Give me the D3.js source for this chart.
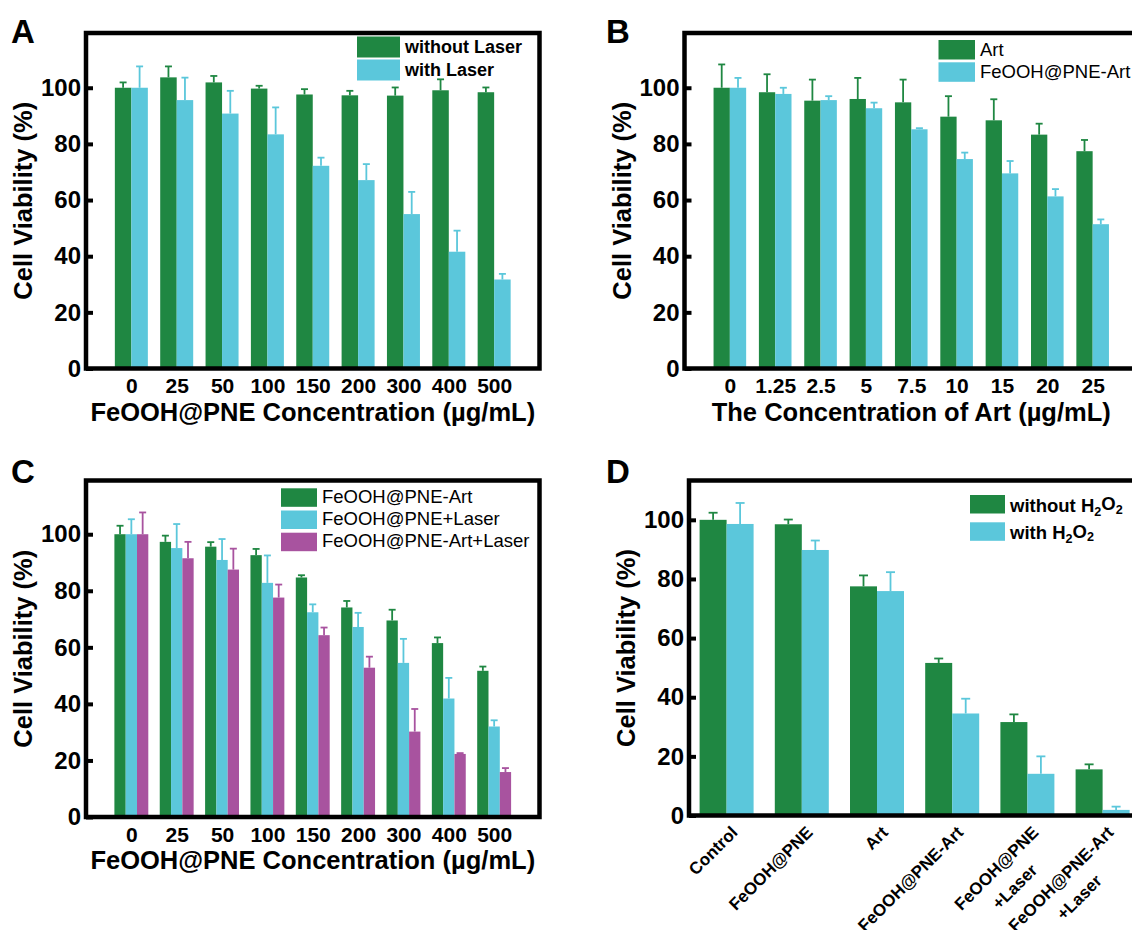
<!DOCTYPE html>
<html>
<head>
<meta charset="utf-8">
<script src="https://cdnjs.cloudflare.com/ajax/libs/d3/7.8.5/d3.min.js"></script>
<style>
  body { margin: 0; background: #fff; }
  svg { display: block; font-family: "Liberation Sans", Arial, sans-serif; }
</style>
</head>
<body>
<div id="chart"></div>
<script>
// ---- data ----
const concCats = ["0", "25", "50", "100", "150", "200", "300", "400", "500"];
const artCats = ["0", "1.25", "2.5", "5", "7.5", "10", "15", "20", "25"];
const groupCats = [["Control"], ["FeOOH@PNE"], ["Art"], ["FeOOH@PNE-Art"],
                   ["FeOOH@PNE", "+Laser"], ["FeOOH@PNE-Art", "+Laser"]];
const yTicks = [0, 20, 40, 60, 80, 100];

// A
const withoutLaserA = [100, 103.7, 101.9, 99.7, 97.6, 97.3, 97.2, 99.1, 98.4];
const withoutLaserErrA = [1.9, 3.9, 2.3, 1.0, 1.9, 1.6, 2.9, 3.9, 1.7];
const withLaserA = [100, 95.6, 90.8, 83.4, 72.2, 67.1, 55.0, 41.6, 31.7];
const withLaserErrA = [7.6, 8.0, 8.1, 9.6, 2.9, 5.7, 7.9, 7.5, 2.0];

// B
const artB = [100, 98.4, 95.4, 96.0, 94.8, 89.7, 88.4, 83.3, 77.4];
const artErrB = [8.3, 6.4, 7.5, 7.5, 8.1, 7.3, 7.5, 3.9, 4.0];
const feArtB = [100, 97.8, 95.6, 92.7, 85.2, 74.6, 69.5, 61.3, 51.4];
const feArtErrB = [3.5, 2.2, 1.4, 2.0, 0.4, 2.3, 4.4, 2.6, 1.7];

// C
const feArtC = [100, 97.3, 95.6, 92.6, 84.7, 74.1, 69.5, 61.5, 51.7];
const feArtErrC = [3.0, 2.2, 1.6, 2.2, 0.8, 2.3, 3.8, 2.0, 1.5];
const feLaserC = [100, 95.1, 90.9, 82.8, 72.4, 67.2, 54.5, 41.9, 32.0];
const feLaserErrC = [5.3, 8.5, 7.4, 9.7, 2.8, 5.0, 8.5, 7.3, 2.2];
const feArtLaserC = [100, 91.5, 87.5, 77.6, 64.3, 52.8, 30.2, 22.3, 15.9];
const feArtLaserErrC = [7.7, 5.8, 7.4, 4.6, 2.7, 3.9, 8.0, 0.3, 1.4];

// D
const withoutH2O2D = [100, 98.5, 77.5, 51.6, 31.6, 15.6];
const withoutH2O2ErrD = [2.4, 1.6, 3.7, 1.5, 2.6, 1.7];
const withH2O2D = [98.6, 89.8, 75.9, 34.5, 14.1, 1.9];
const withH2O2ErrD = [7.1, 3.2, 6.4, 5.0, 5.9, 1.1];

const GREEN = "#1f8742", CYAN = "#5bc7db", MAGENTA = "#a8539f";
const yTitle = "Cell Viability (%)";
const unit = "(µg/mL)";

const svg = d3.select("#chart").append("svg")
  .attr("width", 1132).attr("height", 930);

// text with digits rendered as subscripts (H2O2)
function richText(sel, str) {
  const parts = str.split(/(\d)/).filter(s => s.length);
  let sub = false;
  parts.forEach(s => {
    const isDigit = /^\d$/.test(s);
    const t = sel.append("tspan").text(s);
    if (isDigit && !sub) { t.attr("font-size", "0.68em").attr("dy", "0.3em"); sub = true; }
    else if (isDigit && sub) { t.attr("font-size", "0.68em"); }
    else if (!isDigit && sub) { t.attr("dy", "-0.3em"); sub = false; }
  });
}

function drawPanel(p) {
  const x = d3.scalePoint().domain(d3.range(p.cats.length))
    .range([p.left, p.right]).padding(p.pad);
  const y = d3.scaleLinear().domain([0, p.yMax]).range([p.bottom, p.top]);
  const g = svg.append("g");
  const groupW = p.series.length * p.barW;

  p.series.forEach((s, j) => {
    const sg = g.append("g");
    const bx = i => x(i) - groupW / 2 + j * p.barW;
    sg.selectAll("rect").data(s.values).join("rect")
      .attr("x", (d, i) => bx(i))
      .attr("y", d => y(d))
      .attr("width", p.barW)
      .attr("height", d => y(0) - y(d))
      .attr("fill", s.color);
    // error bars (upper only)
    const eb = sg.selectAll("g.err").data(s.values).join("g").attr("class", "err")
      .attr("stroke", s.color).attr("stroke-width", 1.8);
    eb.append("line")
      .attr("x1", (d, i) => bx(i) + p.barW / 2).attr("x2", (d, i) => bx(i) + p.barW / 2)
      .attr("y1", d => y(d)).attr("y2", (d, i) => y(d + s.err[i]));
    eb.append("line")
      .attr("x1", (d, i) => bx(i) + p.barW / 2 - p.cap / 2)
      .attr("x2", (d, i) => bx(i) + p.barW / 2 + p.cap / 2)
      .attr("y1", (d, i) => y(d + s.err[i])).attr("y2", (d, i) => y(d + s.err[i]));
  });

  // y axis, inward ticks
  g.append("g").attr("transform", `translate(${p.left},0)`)
    .call(d3.axisLeft(y).tickValues(yTicks).tickSizeInner(-7).tickSizeOuter(0).tickPadding(5))
    .attr("font-family", null)
    .call(a => a.select(".domain").remove())
    .call(a => a.selectAll("line").attr("stroke", "#000").attr("stroke-width", 4))
    .call(a => a.selectAll("text").attr("font-size", 24).attr("font-weight", "bold").attr("fill", "#000"));

  // x axis
  if (!p.rotated) {
    g.append("g").attr("transform", `translate(0,${p.bottom})`)
      .call(d3.axisBottom(x).tickSize(0).tickPadding(10).tickFormat(i => p.cats[i]))
      .attr("font-family", null)
      .call(a => a.select(".domain").remove())
      .call(a => a.selectAll("text").attr("font-size", 21).attr("font-weight", "bold").attr("fill", "#000"));
  } else {
    const lab = g.append("g").selectAll("g").data(p.cats).join("g")
      .attr("transform", (d, i) => `translate(${x(i) + 12},${p.bottom + 18}) rotate(-45)`)
      .attr("font-size", 17).attr("font-weight", "bold");
    lab.each(function(lines) {
      const el = d3.select(this);
      const t1 = el.append("text").attr("text-anchor", "end").text(lines[0]);
      if (lines.length > 1) {
        const w = t1.node().getComputedTextLength();
        el.append("text").attr("text-anchor", "middle")
          .attr("x", -w / 2).attr("y", 26).text(lines[1]);
      }
    });
  }

  // x title
  if (p.xTitle) {
    const t = g.append("text")
      .attr("x", (p.left + p.right) / 2).attr("y", p.bottom + 52)
      .attr("text-anchor", "middle").attr("font-size", 25.5).attr("font-weight", "bold");
    t.append("tspan").text(p.xTitle + " ");
    t.append("tspan").text(unit);
  }

  // y title
  g.append("text")
    .attr("transform", `translate(${p.left - 54},${(p.top + p.bottom) / 2}) rotate(-90)`)
    .attr("text-anchor", "middle").attr("font-size", 25.5).attr("font-weight", "bold")
    .text(yTitle);

  // frame
  g.append("rect")
    .attr("x", p.left).attr("y", p.top)
    .attr("width", p.right - p.left).attr("height", p.bottom - p.top)
    .attr("fill", "none").attr("stroke", "#000").attr("stroke-width", 4.5);

  // legend
  const L = p.legend;
  const lg = g.append("g").selectAll("g").data(p.series).join("g")
    .attr("transform", (d, j) => `translate(${L.x},${L.y + j * L.step})`);
  lg.append("rect").attr("width", L.w).attr("height", L.h).attr("fill", d => d.color);
  lg.append("text").attr("x", L.w + 5).attr("y", L.base)
    .attr("font-size", L.size).attr("font-weight", L.weight)
    .each(function(d) { richText(d3.select(this), d.name); });

  // panel letter
  svg.append("text").attr("x", p.letterX).attr("y", p.letterY)
    .attr("font-size", 33).attr("font-weight", "bold").text(p.letter);
}

drawPanel({
  letter: "A", letterX: 11, letterY: 43,
  cats: concCats, left: 86, right: 539.5, top: 33, bottom: 368.5, pad: 1, yMax: 119.5,
  barW: 16.5, cap: 7, xTitle: "FeOOH@PNE Concentration",
  series: [
    { name: "without Laser", values: withoutLaserA, err: withoutLaserErrA, color: GREEN },
    { name: "with Laser", values: withLaserA, err: withLaserErrA, color: CYAN }
  ],
  legend: { x: 357, y: 36.5, w: 43, h: 21, step: 23, base: 16.5, size: 18, weight: "bold" }
});

drawPanel({
  letter: "B", letterX: 606, letterY: 43,
  cats: artCats, left: 684.5, right: 1138, top: 33, bottom: 368.5, pad: 1, yMax: 119.5,
  barW: 16.3, cap: 7, xTitle: "The Concentration of Art",
  series: [
    { name: "Art", values: artB, err: artErrB, color: GREEN },
    { name: "FeOOH@PNE-Art", values: feArtB, err: feArtErrB, color: CYAN }
  ],
  legend: { x: 938.5, y: 40, w: 36.5, h: 19.5, step: 22.3, base: 16, size: 18.5, weight: "normal" }
});

drawPanel({
  letter: "C", letterX: 11, letterY: 483,
  cats: concCats, left: 86, right: 539.5, top: 480.5, bottom: 817, pad: 1, yMax: 119,
  barW: 11.3, cap: 7, xTitle: "FeOOH@PNE Concentration",
  series: [
    { name: "FeOOH@PNE-Art", values: feArtC, err: feArtErrC, color: GREEN },
    { name: "FeOOH@PNE+Laser", values: feLaserC, err: feLaserErrC, color: CYAN },
    { name: "FeOOH@PNE-Art+Laser", values: feArtLaserC, err: feArtLaserErrC, color: MAGENTA }
  ],
  legend: { x: 281, y: 488.3, w: 36, h: 18.5, step: 22.2, base: 14.5, size: 18.5, weight: "normal" }
});

drawPanel({
  letter: "D", letterX: 606, letterY: 483,
  cats: groupCats, left: 689, right: 1140.2, top: 480.5, bottom: 815.5, pad: 0.5, yMax: 113.3,
  barW: 27, cap: 9, rotated: true,
  series: [
    { name: "without H2O2", values: withoutH2O2D, err: withoutH2O2ErrD, color: GREEN },
    { name: "with H2O2", values: withH2O2D, err: withH2O2ErrD, color: CYAN }
  ],
  legend: { x: 970, y: 495, w: 35, h: 18.5, step: 27.3, base: 17, size: 18.5, weight: "bold" }
});
</script>
</body>
</html>
